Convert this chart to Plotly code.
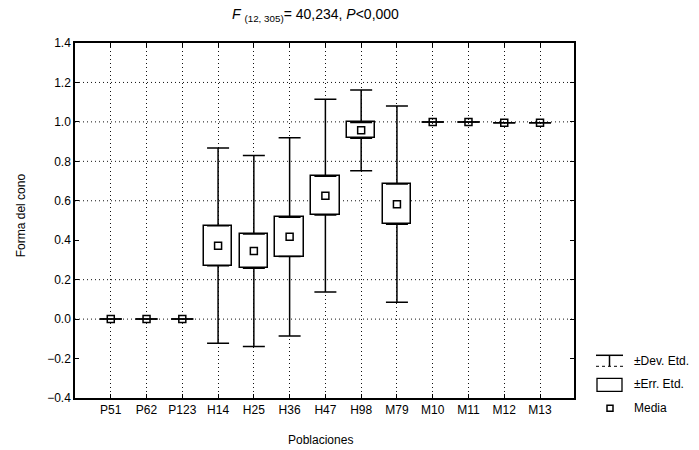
import plotly.graph_objects as go

# ---------------- data ----------------
categories = ["P51", "P62", "P123", "H14", "H25", "H36", "H47",
              "H98", "M79", "M10", "M11", "M12", "M13"]
means   = [0.0, 0.0, 0.0, 0.372, 0.345, 0.417, 0.626, 0.957, 0.583, 1.0, 1.0, 0.995, 0.995]
std_err = [0.0, 0.0, 0.0, 0.102, 0.087, 0.100, 0.098, 0.040, 0.102, 0.0, 0.0, 0.0, 0.0]
std_dev = [0.0, 0.0, 0.0, 0.495, 0.484, 0.502, 0.489, 0.205, 0.497, 0.0, 0.0, 0.0, 0.0]

y_ticks = [-0.4, -0.2, 0.0, 0.2, 0.4, 0.6, 0.8, 1.0, 1.2, 1.4]
grid_y = [0.0, 0.2, 0.6, 0.8, 1.0, 1.2]

title_html = "<i>F</i> <sub>(12, 305)</sub>= 40,234, <i>P</i>&lt;0,000"
x_title = "Poblaciones"
y_title = "Forma del cono"
legend_labels = ["±Dev. Etd.", "±Err. Etd.", "Media"]

FONT = "Liberation Sans, Arial, sans-serif"
DOT = "1px,3px"

# ---------------- derived ----------------
box_base = [m - s for m, s in zip(means, std_err)]
box_height = [2 * s if s > 0 else None for s in std_err]
upper = [m + s for m, s in zip(means, std_err)]
lower = [m - s for m, s in zip(means, std_err)]
whisk = [d - s for d, s in zip(std_dev, std_err)]
zeros = [0.0] * len(categories)

fig = go.Figure()

# ±Err. Etd. boxes
fig.add_trace(go.Bar(
    x=categories, y=box_height, base=box_base, width=0.8,
    marker=dict(color="white", line=dict(color="black", width=1.5)),
    showlegend=False, hoverinfo="skip"))

# ±Dev. Etd. whiskers (upper part and lower part, outside the box)
fig.add_trace(go.Scatter(
    x=categories, y=upper, mode="markers",
    marker=dict(size=1, color="rgba(0,0,0,0)"),
    error_y=dict(type="data", symmetric=False, array=whisk, arrayminus=zeros,
                 color="black", thickness=1.5, width=11),
    showlegend=False, hoverinfo="skip"))
fig.add_trace(go.Scatter(
    x=categories, y=lower, mode="markers",
    marker=dict(size=1, color="rgba(0,0,0,0)"),
    error_y=dict(type="data", symmetric=False, array=zeros, arrayminus=whisk,
                 color="black", thickness=1.5, width=11),
    showlegend=False, hoverinfo="skip"))

# Media markers
fig.add_trace(go.Scatter(
    x=categories, y=means, mode="markers",
    marker=dict(symbol="square-open", size=7, color="black", line=dict(width=1.5)),
    showlegend=False))

# horizontal dotted grid
for gy in grid_y:
    fig.add_shape(type="line", xref="paper", yref="y", x0=0, x1=1, y0=gy, y1=gy,
                  line=dict(color="#111", width=1, dash=DOT), layer="below")

# ---------------- legend (drawn) ----------------
def px_x(p):
    return (p - 75) / 499.0

def px_y(p):
    return (397.7 - p) / 355.0

shape_common = dict(xref="paper", yref="paper")
# whisker icon
fig.add_shape(type="line", x0=px_x(596), x1=px_x(623), y0=px_y(355), y1=px_y(355),
              line=dict(color="black", width=1.5), **shape_common)
fig.add_shape(type="line", x0=px_x(609.5), x1=px_x(609.5), y0=px_y(355), y1=px_y(366),
              line=dict(color="black", width=1.5), **shape_common)
fig.add_shape(type="line", x0=px_x(596), x1=px_x(623), y0=px_y(366), y1=px_y(366),
              line=dict(color="black", width=1, dash="dot"), **shape_common)
# box icon
fig.add_shape(type="rect", x0=px_x(597), x1=px_x(622), y0=px_y(378), y1=px_y(391),
              line=dict(color="black", width=1.3), fillcolor="white", **shape_common)
# media icon
fig.add_shape(type="rect", x0=px_x(607), x1=px_x(613), y0=px_y(405), y1=px_y(411),
              line=dict(color="black", width=1.5), **shape_common)

for txt, py in zip(legend_labels, [361, 384, 408]):
    fig.add_annotation(text=txt, xref="paper", yref="paper", x=px_x(632), y=px_y(py),
                       xanchor="left", yanchor="middle", showarrow=False,
                       font=dict(family=FONT, size=12, color="black"))

# titles
fig.add_annotation(text=title_html, xref="paper", yref="paper", x=px_x(315), y=px_y(15),
                   xanchor="center", yanchor="middle", showarrow=False,
                   font=dict(family=FONT, size=14, color="black"))
fig.add_annotation(text=x_title, xref="paper", yref="paper", x=px_x(320), y=px_y(440),
                   xanchor="center", yanchor="middle", showarrow=False,
                   font=dict(family=FONT, size=12, color="black"))
fig.add_annotation(text=y_title, xref="paper", yref="paper", x=px_x(21), y=px_y(215),
                   xanchor="center", yanchor="middle", showarrow=False, textangle=-90,
                   font=dict(family=FONT, size=12, color="black"))

fig.update_layout(
    width=699, height=450,
    margin=dict(l=75, r=125, t=43, b=52),
    paper_bgcolor="white", plot_bgcolor="white",
    font=dict(family=FONT, size=12, color="black"),
    showlegend=False,
    bargap=0,
)
fig.update_xaxes(
    type="category", range=[-1.0, 12.95],
    showgrid=True, griddash=DOT, gridcolor="#111", gridwidth=1,
    showline=True, linecolor="black", linewidth=1.5, mirror="ticks",
    ticks="inside", ticklen=4, tickcolor="black", tickwidth=1,
    tickfont=dict(family=FONT, size=12, color="black"),
    zeroline=False,
)
fig.update_yaxes(
    range=[-0.4, 1.4], tickvals=y_ticks, tickformat=".1f",
    showgrid=False,
    showline=True, linecolor="black", linewidth=1.5, mirror="ticks",
    ticks="inside", ticklen=4, tickcolor="black", tickwidth=1,
    tickfont=dict(family=FONT, size=12, color="black"),
    zeroline=False,
)

fig.write_html("out.html")
